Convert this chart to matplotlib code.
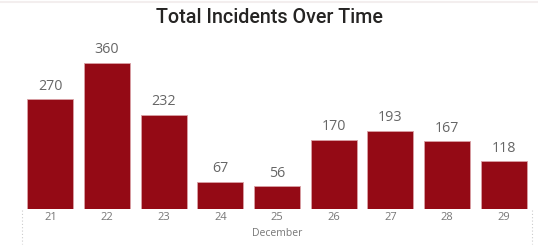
import matplotlib
matplotlib.use("Agg")
import matplotlib.pyplot as plt
from matplotlib.lines import Line2D

days = ["21", "22", "23", "24", "25", "26", "27", "28", "29"]
incidents = [270, 360, 232, 67, 56, 170, 193, 167, 118]
month_label = "December"
title = "Total Incidents Over Time"

W, H = 538, 246
fig = plt.figure(figsize=(W / 100, H / 100), dpi=100)
fig.patch.set_facecolor("white")

left, right = 22, 532
bottom_px, top_px = 209.3, 62.6
ax = fig.add_axes([left / W, 1 - bottom_px / H, (right - left) / W, (bottom_px - top_px) / H])
x = list(range(len(days)))
bars = ax.bar(x, incidents, width=0.81, color="#940A15", edgecolor="#d9a0a5", linewidth=0.6)
ax.set_xlim(-0.5, len(days) - 0.5)
ax.set_ylim(0, 360)
for s in ax.spines.values():
    s.set_visible(False)
ax.set_yticks([])
ax.set_xticks(x)
ax.set_xticklabels(days, fontsize=8, color="#777777", family="Open Sans")
ax.tick_params(axis="x", length=0, pad=2)
for xi, v in zip(x, incidents):
    ax.annotate(str(v), (xi, v), xytext=(0, 4), textcoords="offset points",
                ha="center", va="bottom", fontsize=10.3, color="#666666",
                family="Open Sans", annotation_clip=False)

fig.text((left + right) / 2 / W, 1 - 233 / H, month_label, ha="center", va="center",
         fontsize=7.5, color="#777777", family="Open Sans")
fig.text(269 / W, 1 - 17.5 / H, title, ha="center", va="center",
         fontsize=14.2, color="#252423", family="Roboto", weight="medium")

for xp in (left, right):
    fig.add_artist(Line2D([xp / W, xp / W], [1 - 210 / H, 1 - 244 / H],
                          color="#cccccc", linestyle=(0, (1, 2)), linewidth=0.8))
fig.add_artist(Line2D([0, 1], [1 - 1.5 / H, 1 - 1.5 / H], color="#f3eeee", linewidth=1.5))

fig.savefig("out.png", dpi=100)
